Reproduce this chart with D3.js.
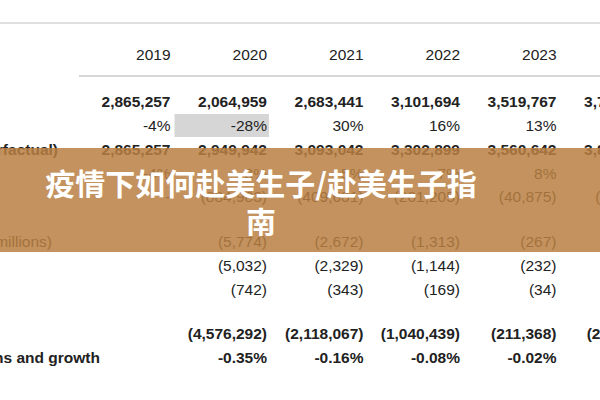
<!DOCTYPE html>
<html><head><meta charset="utf-8">
<script src="https://cdn.jsdelivr.net/npm/d3@7"></script>
<style>body{margin:0;background:#fff}svg{display:block}</style>
</head><body><svg id="c" width="600" height="400"></svg>
<script>
// table contents
const years = ['2019', '2020', '2021', '2022', '2023', '2024'];
const rowLabels = ['', '', 'Counterfactual)', '', '', 'in millions)', '', '', '', 'Births and growth'];
const labelRight = [0, 0, 58, 0, 0, 52, 0, 0, 0, 100];
const rowBold = [true, false, true, false, false, false, false, false, true, true];
const rowValues = [
  ['2,865,257', '2,064,959', '2,683,441', '3,101,694', '3,519,767', '3,791,554'],
  ['-4%', '-28%', '30%', '16%', '13%', '8%'],
  ['2,865,257', '2,949,942', '3,093,042', '3,302,899', '3,560,642', '3,841,210'],
  ['-4%', '3%', '5%', '7%', '8%', '8%'],
  ['-', '(884,983)', '(409,601)', '(201,205)', '(40,875)', '(49,656)'],
  ['', '(5,774)', '(2,672)', '(1,313)', '(267)', '(324)'],
  ['', '(5,032)', '(2,329)', '(1,144)', '(232)', '(282)'],
  ['', '(742)', '(343)', '(169)', '(34)', '(42)'],
  ['', '(4,576,292)', '(2,118,067)', '(1,040,439)', '(211,368)', '(226,520)'],
  ['', '-0.35%', '-0.16%', '-0.08%', '-0.02%', '-0.02%']
];
const rowY = [102, 126, 150, 174, 197, 242, 266, 290, 334, 358];
const title = ['疫情下如何赴美生子/赴美生子指', '南'];

const svg = d3.select('#c');
const x = d3.scaleBand().domain(years).range([74, 653]);
const colRight = y => x(y) + x.bandwidth();
const font = '"Liberation Sans", Arial, sans-serif';

svg.append('line').attr('x1', 0).attr('x2', 600).attr('y1', 23).attr('y2', 23)
  .attr('stroke', '#d4d4d4').attr('stroke-width', 1.5);
svg.append('line').attr('x1', 79).attr('x2', 600).attr('y1', 76).attr('y2', 76)
  .attr('stroke', '#c8c8c8').attr('stroke-width', 1.5);

// highlighted cell
svg.append('rect').attr('x', x('2020') + 4).attr('y', 114).attr('width', x.bandwidth() - 2).attr('height', 23)
  .attr('fill', '#d6d6d6');

svg.selectAll('text.yr').data(years).join('text').attr('class', 'yr')
  .attr('x', d => colRight(d)).attr('y', 55).attr('dy', '0.35em')
  .attr('text-anchor', 'end').attr('font-family', font).attr('font-size', 15.5).attr('fill', '#222')
  .text(d => d);

rowValues.forEach((vals, r) => {
  svg.selectAll(null).data(vals).join('text')
    .attr('x', (d, i) => colRight(years[i])).attr('y', rowY[r]).attr('dy', '0.35em')
    .attr('text-anchor', 'end').attr('font-family', font).attr('font-size', 15.5)
    .attr('font-weight', rowBold[r] ? 'bold' : 'normal').attr('fill', '#222')
    .text(d => d);
  if (rowLabels[r]) {
    svg.append('text').attr('x', labelRight[r]).attr('y', rowY[r]).attr('dy', '0.35em')
      .attr('text-anchor', 'end').attr('font-family', font).attr('font-size', 15.5)
      .attr('font-weight', rowBold[r] ? 'bold' : 'normal').attr('fill', '#222')
      .text(rowLabels[r]);
  }
});

// banner
svg.append('rect').attr('x', 0).attr('y', 148).attr('width', 600).attr('height', 104)
  .attr('fill', '#b97f42').attr('opacity', 0.85);
svg.selectAll('text.t').data(title).join('text').attr('class', 't')
  .attr('x', 261).attr('y', (d, i) => 184 + i * 38).attr('dy', '0.35em')
  .attr('text-anchor', 'middle').attr('font-family', '"Noto Sans CJK SC", sans-serif')
  .attr('font-size', 30).attr('font-weight', 'bold').attr('fill', '#fff')
  .text(d => d);
</script></body></html>
